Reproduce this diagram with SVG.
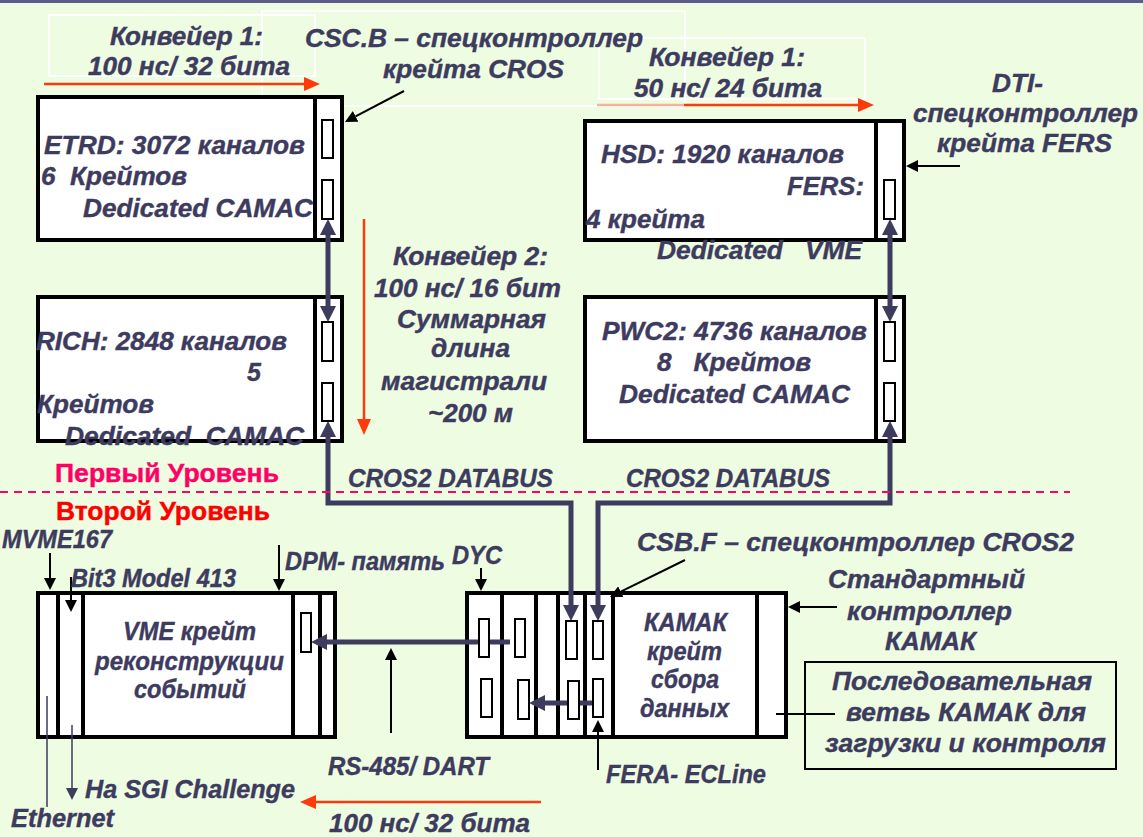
<svg xmlns="http://www.w3.org/2000/svg" width="1143" height="837" viewBox="0 0 1143 837">
<style>
.t{font-family:"Liberation Sans",Arial,sans-serif;font-weight:bold;font-style:italic;font-size:25px;fill:#3D3B5E;stroke:#3D3B5E;stroke-width:0.4}
.lvl{font-family:"Liberation Sans",Arial,sans-serif;font-weight:bold;font-size:25px;stroke-width:0.4}
.box{fill:#FFFFFF;stroke:#000;stroke-width:4}
.div{stroke:#000;stroke-width:4}
.slot{fill:#FFFFFF;stroke:#000;stroke-width:2}
.bus{fill:none;stroke:#3D3B5E;stroke-width:5}
.thin{fill:none;stroke:#000;stroke-width:2}
.red{fill:none;stroke:#FF3A0A;stroke-width:2.5}
.tb{fill:none;stroke:#FFFFFF;stroke-width:2}
</style>
<defs>
<marker id="busHead" viewBox="0 0 16 16" refX="0" refY="8" markerWidth="16" markerHeight="16" markerUnits="userSpaceOnUse" orient="auto-start-reverse"><path d="M0,0 L16,8 L0,16 z" fill="#3D3B5E"/></marker>
<marker id="blkHead" viewBox="0 0 12 12" refX="0" refY="6" markerWidth="12" markerHeight="12" markerUnits="userSpaceOnUse" orient="auto"><path d="M0,0 L12,6 L0,12 z" fill="#000"/></marker>
<marker id="navyHead" viewBox="0 0 12 12" refX="0" refY="6" markerWidth="12" markerHeight="12" markerUnits="userSpaceOnUse" orient="auto"><path d="M0,0 L12,6 L0,12 z" fill="#3D3B5E"/></marker>
<marker id="redHead" viewBox="0 0 16 14" refX="0" refY="7" markerWidth="16" markerHeight="14" markerUnits="userSpaceOnUse" orient="auto"><path d="M0,0 L16,7 L0,14 z" fill="#FF3A0A"/></marker>
</defs>
<rect x="0" y="0" width="1143" height="837" fill="#EEFCE2"/>
<rect x="0" y="0" width="1143" height="3" fill="#5C5C8A"/>

<g id="textboxes">
<rect class="tb" x="49" y="15" width="266" height="61"/>
<rect class="tb" x="262" y="11" width="423" height="95"/>
<rect class="tb" x="599" y="38" width="266" height="61"/>
</g>

<g id="etrd">
<rect class="box" x="38" y="97" width="304" height="143"/>
<line class="div" x1="315" y1="97" x2="315" y2="240"/>
<text class="t" x="44" y="154" textLength="261" lengthAdjust="spacingAndGlyphs">ETRD: 3072 каналов</text>
<text class="t" x="41" y="185" textLength="146" lengthAdjust="spacingAndGlyphs" xml:space="preserve">6  Крейтов</text>
<text class="t" x="83" y="217" textLength="230" lengthAdjust="spacingAndGlyphs">Dedicated CAMAC</text>
</g>
<g id="rich">
<rect class="box" x="38" y="297" width="304" height="144"/>
<line class="div" x1="315" y1="297" x2="315" y2="441"/>
</g>
<g id="hsd">
<rect class="box" x="585" y="121" width="319" height="119"/>
<line class="div" x1="876" y1="121" x2="876" y2="240"/>
<text class="t" x="601" y="163" textLength="243" lengthAdjust="spacingAndGlyphs">HSD: 1920 каналов</text>
<text class="t" x="787" y="195" textLength="77" lengthAdjust="spacingAndGlyphs">FERS:</text>
<text class="t" x="586" y="228" textLength="119" lengthAdjust="spacingAndGlyphs">4 крейта</text>
<text class="t" x="657" y="259" textLength="205" lengthAdjust="spacingAndGlyphs" xml:space="preserve">Dedicated   VME</text>
</g>
<g id="pwc2">
<rect class="box" x="585" y="297" width="319" height="144"/>
<line class="div" x1="876" y1="297" x2="876" y2="441"/>
<text class="t" x="602" y="340" textLength="265" lengthAdjust="spacingAndGlyphs">PWC2: 4736 каналов</text>
<text class="t" x="657" y="371" textLength="154" lengthAdjust="spacingAndGlyphs" xml:space="preserve">8   Крейтов</text>
<text class="t" x="619" y="403" textLength="231" lengthAdjust="spacingAndGlyphs">Dedicated CAMAC</text>
</g>
<g id="vme">
<rect class="box" x="38" y="593" width="297" height="144"/>
<line class="div" x1="58" y1="593" x2="58" y2="737"/>
<line class="div" x1="83" y1="593" x2="83" y2="737"/>
<line class="div" x1="293" y1="593" x2="293" y2="737"/>
<line class="div" x1="320" y1="593" x2="320" y2="737"/>
<text class="t" x="123" y="640" textLength="133" lengthAdjust="spacingAndGlyphs">VME крейт</text>
<text class="t" x="95" y="670" textLength="189" lengthAdjust="spacingAndGlyphs">реконструкции</text>
<text class="t" x="134" y="698" textLength="112" lengthAdjust="spacingAndGlyphs">событий</text>
</g>
<g id="camac">
<rect class="box" x="467" y="593" width="319" height="144"/>
<line class="div" x1="502" y1="593" x2="502" y2="737"/>
<line class="div" x1="536" y1="593" x2="536" y2="737"/>
<line class="div" x1="558" y1="593" x2="558" y2="737"/>
<line class="div" x1="585" y1="593" x2="585" y2="737"/>
<line class="div" x1="613" y1="593" x2="613" y2="737"/>
<line class="div" x1="757" y1="593" x2="757" y2="737"/>
<text class="t" x="644" y="631" textLength="83" lengthAdjust="spacingAndGlyphs">КАМАК</text>
<text class="t" x="647" y="660" textLength="75" lengthAdjust="spacingAndGlyphs">крейт</text>
<text class="t" x="651" y="688" textLength="68" lengthAdjust="spacingAndGlyphs">сбора</text>
<text class="t" x="640" y="717" textLength="89" lengthAdjust="spacingAndGlyphs">данных</text>
</g>
<g id="serial-box">
<rect x="805" y="662" width="311" height="107" fill="none" stroke="#000" stroke-width="2"/>
<text class="t" x="832" y="690" textLength="260" lengthAdjust="spacingAndGlyphs">Последовательная</text>
<text class="t" x="846" y="721" textLength="240" lengthAdjust="spacingAndGlyphs">ветвь КАМАК для</text>
<text class="t" x="825" y="752" textLength="281" lengthAdjust="spacingAndGlyphs">загрузки и контроля</text>
</g>

<g id="connectors">
<path class="bus" d="M328,235 V306" marker-start="url(#busHead)" marker-end="url(#busHead)"/>
<path class="bus" d="M890,235 V306" marker-start="url(#busHead)" marker-end="url(#busHead)"/>
<path class="bus" d="M328,437 V503 H571 V605" marker-start="url(#busHead)" marker-end="url(#busHead)"/>
<path class="bus" d="M890,437 V503 H598 V605" marker-start="url(#busHead)" marker-end="url(#busHead)"/>
<path class="bus" d="M510,642 H327" marker-end="url(#busHead)"/>
<path class="bus" d="M593,703 H545" marker-end="url(#busHead)"/>
<path class="thin" d="M404,91 L355.6,116.4" marker-end="url(#blkHead)"/>
<path class="thin" d="M960,166 H918" marker-end="url(#blkHead)"/>
<path class="thin" d="M685,560 L620.8,591.7" marker-end="url(#blkHead)"/>
<path class="thin" d="M598,770 V732" marker-end="url(#blkHead)"/>
<path class="thin" d="M837,607 H800" marker-end="url(#blkHead)"/>
<path class="thin" d="M50,553 V578" marker-end="url(#blkHead)"/>
<path class="thin" d="M71,577 V600" marker-end="url(#blkHead)"/>
<path class="thin" d="M279,545 V579" marker-end="url(#blkHead)"/>
<path class="thin" d="M481,568 V579" marker-end="url(#blkHead)"/>
<path d="M72,725 V788" fill="none" stroke="#3D3B5E" stroke-width="1.5" marker-end="url(#navyHead)"/>
<path class="thin" d="M391,733 V660" marker-end="url(#blkHead)"/>
<path d="M47,696 V807" fill="none" stroke="#3D3B5E" stroke-width="1.5"/>
<path class="thin" d="M776,714 H835"/>
<path class="red" d="M44,84 H304" marker-end="url(#redHead)"/>
<path d="M597,105 H684" fill="none" stroke="#F5B49A" stroke-width="2.5"/>
<path class="red" d="M684,105 H858" marker-end="url(#redHead)"/>
<path class="red" d="M364,219 V419" marker-end="url(#redHead)"/>
<path class="red" d="M541,802 H316" marker-end="url(#redHead)"/>
<line x1="0" y1="492" x2="1070" y2="492" stroke="#FF0066" stroke-width="2" stroke-dasharray="8 6"/>
</g>

<g id="slots">
<rect class="slot" x="322" y="120" width="11" height="38"/>
<rect class="slot" x="322" y="180" width="11" height="39"/>
<rect class="slot" x="322" y="322" width="11" height="39"/>
<rect class="slot" x="322" y="383" width="11" height="38"/>
<rect class="slot" x="884" y="180" width="11" height="39"/>
<rect class="slot" x="884" y="322" width="11" height="39"/>
<rect class="slot" x="884" y="383" width="11" height="38"/>
<rect class="slot" x="301" y="613" width="10" height="39"/>
<rect class="slot" x="479" y="619" width="10" height="38"/>
<rect class="slot" x="515" y="619" width="10" height="38"/>
<rect class="slot" x="481" y="679" width="11" height="38"/>
<rect class="slot" x="518" y="680" width="11" height="39"/>
<rect class="slot" x="566" y="621" width="11" height="38"/>
<rect class="slot" x="593" y="621" width="10" height="38"/>
<rect class="slot" x="568" y="681" width="11" height="38"/>
<rect class="slot" x="593" y="679" width="10" height="38"/>
</g>

<g id="rich-text">
<text class="t" x="36" y="350" textLength="251" lengthAdjust="spacingAndGlyphs">RICH: 2848 каналов</text>
<text class="t" x="247" y="381">5</text>
<text class="t" x="37" y="413" textLength="117" lengthAdjust="spacingAndGlyphs">Крейтов</text>
<text class="t" x="65" y="445" textLength="239" lengthAdjust="spacingAndGlyphs" xml:space="preserve">Dedicated  CAMAC</text>
</g>

<g id="labels">
<text class="t" x="110" y="45" textLength="153" lengthAdjust="spacingAndGlyphs">Конвейер 1:</text>
<text class="t" x="88" y="75" textLength="202" lengthAdjust="spacingAndGlyphs">100 нс/ 32 бита</text>
<text class="t" x="305" y="47" textLength="338" lengthAdjust="spacingAndGlyphs">CSC.B – спецконтроллер</text>
<text class="t" x="383" y="78" textLength="181" lengthAdjust="spacingAndGlyphs">крейта CROS</text>
<text class="t" x="649" y="66" textLength="156" lengthAdjust="spacingAndGlyphs">Конвейер 1:</text>
<text class="t" x="634" y="97" textLength="188" lengthAdjust="spacingAndGlyphs">50 нс/ 24 бита</text>
<text class="t" x="992" y="92" textLength="51" lengthAdjust="spacingAndGlyphs">DTI-</text>
<text class="t" x="913" y="122" textLength="225" lengthAdjust="spacingAndGlyphs">спецконтроллер</text>
<text class="t" x="937" y="152" textLength="175" lengthAdjust="spacingAndGlyphs">крейта FERS</text>
<text class="t" x="393" y="265" textLength="155" lengthAdjust="spacingAndGlyphs">Конвейер 2:</text>
<text class="t" x="374" y="297" textLength="187" lengthAdjust="spacingAndGlyphs">100 нс/ 16 бит</text>
<text class="t" x="397" y="328" textLength="149" lengthAdjust="spacingAndGlyphs">Суммарная</text>
<text class="t" x="431" y="357" textLength="79" lengthAdjust="spacingAndGlyphs">длина</text>
<text class="t" x="381" y="390" textLength="166" lengthAdjust="spacingAndGlyphs">магистрали</text>
<text class="t" x="428" y="422" textLength="85" lengthAdjust="spacingAndGlyphs">~200 м</text>
<text class="t" x="348" y="487" textLength="205" lengthAdjust="spacingAndGlyphs">CROS2 DATABUS</text>
<text class="t" x="626" y="487" textLength="204" lengthAdjust="spacingAndGlyphs">CROS2 DATABUS</text>
<text class="lvl" x="55" y="482" fill="#FF0066" stroke="#FF0066" textLength="224" lengthAdjust="spacingAndGlyphs">Первый Уровень</text>
<text class="lvl" x="56" y="520" fill="#FF0000" stroke="#FF0000" textLength="214" lengthAdjust="spacingAndGlyphs">Второй Уровень</text>
<text class="t" x="2" y="548" textLength="110" lengthAdjust="spacingAndGlyphs">MVME167</text>
<text class="t" x="71" y="587" textLength="165" lengthAdjust="spacingAndGlyphs">Bit3 Model 413</text>
<text class="t" x="285" y="570" textLength="160" lengthAdjust="spacingAndGlyphs">DPM- память</text>
<text class="t" x="452" y="564" textLength="50" lengthAdjust="spacingAndGlyphs">DYC</text>
<text class="t" x="637" y="551" textLength="437" lengthAdjust="spacingAndGlyphs">CSB.F – спецконтроллер CROS2</text>
<text class="t" x="828" y="588" textLength="197" lengthAdjust="spacingAndGlyphs">Стандартный</text>
<text class="t" x="847" y="620" textLength="165" lengthAdjust="spacingAndGlyphs">контроллер</text>
<text class="t" x="885" y="650" textLength="91" lengthAdjust="spacingAndGlyphs">КАМАК</text>
<text class="t" x="606" y="783" textLength="160" lengthAdjust="spacingAndGlyphs">FERA- ECLine</text>
<text class="t" x="328" y="775" textLength="161" lengthAdjust="spacingAndGlyphs">RS-485/ DART</text>
<text class="t" x="85" y="798" textLength="210" lengthAdjust="spacingAndGlyphs">На SGI Challenge</text>
<text class="t" x="11" y="827" textLength="103" lengthAdjust="spacingAndGlyphs">Ethernet</text>
<text class="t" x="329" y="832" textLength="201" lengthAdjust="spacingAndGlyphs">100 нс/ 32 бита</text>
</g>
</svg>
